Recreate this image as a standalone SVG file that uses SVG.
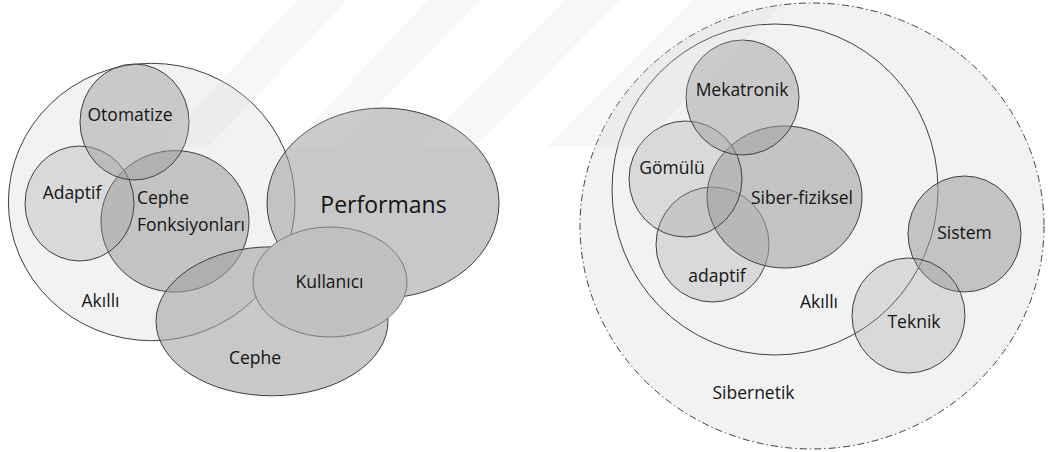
<svg xmlns="http://www.w3.org/2000/svg" width="1048" height="452" viewBox="0 0 1048 452">
  <style>
    .set { stroke: #3f3f3f; stroke-width: 1; }
    .base { fill: #f2f2f2; }
    .dark { fill: #a0a0a0; fill-opacity: 0.58; }
    .mid { fill: #a0a0a0; fill-opacity: 0.5; }
    .light { fill: #a0a0a0; fill-opacity: 0.3; }
    .solid { fill: #c0c0c0; stroke: #7a7a7a; stroke-width: 1; }
    .outer { fill: #f2f2f2; stroke: #404040; stroke-width: 1; stroke-dasharray: 7 3 1.5 3; }
    .ring { fill: none; stroke: #3f3f3f; stroke-width: 1; }
    .mark { fill: #d6d6d6; fill-opacity: 0.2; }
    text { font-family: "Open Sans", "Noto Sans", "Liberation Sans", sans-serif; font-size: 17.5px; fill: #141414; }
    .big { font-size: 23px; }
    .mid-anchor { text-anchor: middle; }
  </style>

  <rect width="1048" height="452" fill="#ffffff"/>

  <!-- Left diagram: smart facade -->
  <g id="left-akilli"><ellipse class="set base" cx="151.7" cy="202" rx="143.3" ry="138.7"/></g>
  <g id="cephe-fonksiyonlari"><ellipse class="set dark" cx="175" cy="221.3" rx="74" ry="70.7"/></g>
  <g id="adaptif-left"><ellipse class="set light" cx="79.5" cy="203.5" rx="54.5" ry="57.5"/></g>
  <g id="otomatize"><ellipse class="set mid" cx="134.5" cy="122" rx="54.5" ry="58"/></g>
  <g id="performans"><ellipse class="set dark" cx="383" cy="203" rx="116" ry="95"/></g>
  <g id="cephe"><ellipse class="set dark" cx="272" cy="321.3" rx="116" ry="74.5"/></g>
  <g id="kullanici"><ellipse class="solid" cx="330" cy="282" rx="77" ry="55"/></g>

  <!-- Right diagram: cybernetics -->
  <g id="sibernetik"><ellipse class="outer" cx="812" cy="226" rx="232" ry="223"/></g>
  <g id="right-akilli"><ellipse class="ring" cx="775" cy="189.5" rx="163" ry="165.5"/></g>
  <g id="adaptif-right"><ellipse class="set light" cx="712.5" cy="244.5" rx="56.5" ry="57.5"/></g>
  <g id="siber-fiziksel"><ellipse class="set dark" cx="784.5" cy="197" rx="77.5" ry="71"/></g>
  <g id="gomulu"><ellipse class="set light" cx="685.5" cy="179" rx="56.5" ry="58"/></g>
  <g id="mekatronik"><ellipse class="set mid" cx="742.5" cy="97.5" rx="56.5" ry="57.5"/></g>
  <g id="sistem"><ellipse class="set dark" cx="964.5" cy="234" rx="56.5" ry="58"/></g>
  <g id="teknik"><ellipse class="set light" cx="908.5" cy="315.5" rx="56.5" ry="57.5"/></g>

  <!-- faint diagonal background bands -->
  <g id="bands">
    <polygon class="mark" points="297,0 347,0 209,147 159,147"/>
    <polygon class="mark" points="428,0 480,0 337,147 290,147"/>
    <polygon class="mark" points="565,0 620,0 475,147 420,147"/>
    <polygon class="mark" points="693,0 787,0 640,147 547,147"/>
  </g>

  <!-- labels -->
  <g id="labels">
    <text class="mid-anchor" x="130" y="120.5">Otomatize</text>
    <text class="mid-anchor" x="72" y="198.5">Adaptif</text>
    <text x="137" y="204">Cephe</text>
    <text x="137" y="230.5">Fonksiyonları</text>
    <text class="mid-anchor big" x="383.5" y="213">Performans</text>
    <text class="mid-anchor" x="329.5" y="288">Kullanıcı</text>
    <text class="mid-anchor" x="100.5" y="306.5">Akıllı</text>
    <text class="mid-anchor" x="255" y="364">Cephe</text>

    <text class="mid-anchor" x="742" y="95.5">Mekatronik</text>
    <text class="mid-anchor" x="672" y="174">Gömülü</text>
    <text class="mid-anchor" x="802" y="204">Siber-fiziksel</text>
    <text class="mid-anchor" x="717" y="281.5">adaptif</text>
    <text class="mid-anchor" x="964.5" y="238.5">Sistem</text>
    <text class="mid-anchor" x="819" y="308">Akıllı</text>
    <text class="mid-anchor" x="914" y="328">Teknik</text>
    <text class="mid-anchor" x="753.5" y="398.5">Sibernetik</text>
  </g>
</svg>
